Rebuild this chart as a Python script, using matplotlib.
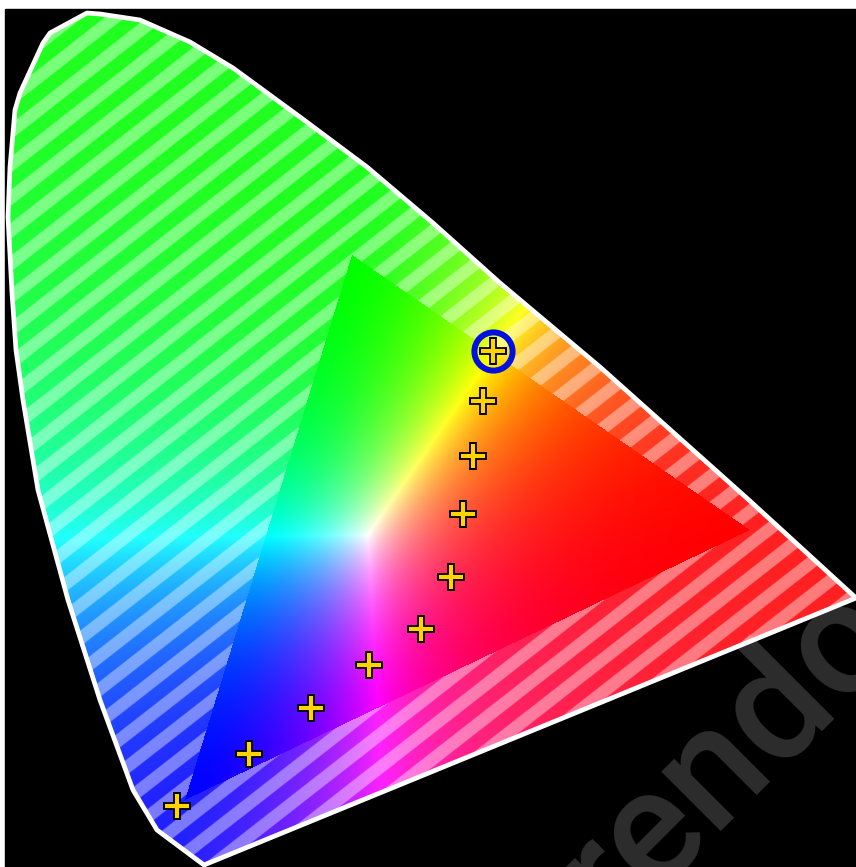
import matplotlib
matplotlib.use('Agg')
import matplotlib.pyplot as plt
import numpy as np
from matplotlib.patches import Polygon, Rectangle

# spectral locus (pixels)
locus_x = [204, 157, 133, 100, 68, 38, 23, 16, 12, 8, 10, 15, 20, 43, 50, 87, 100, 140, 190, 233, 300, 367, 433, 500, 600, 750, 856]
locus_y = [865, 830, 790, 700, 600, 490, 400, 350, 293, 217, 167, 110, 93, 43, 33, 13, 14, 20, 42, 68, 117, 167, 223, 283, 367, 501, 598]

gamut_x = [750, 352, 185]
gamut_y = [530, 255, 800]
white_x = 368
white_y = 535

cross_x = [177, 249, 311, 369, 421, 451, 463, 473, 483, 493]
cross_y = [806, 754, 708, 665, 629, 577, 514, 456, 401, 351]
selected = 9

W, H = 856, 867
fig = plt.figure(figsize=(W / 100, H / 100), dpi=100, facecolor='white')
ax = fig.add_axes([0, 0, 1, 1])
ax.set_xlim(0, W)
ax.set_ylim(H, 0)
ax.axis('off')
ax.add_patch(Rectangle((5, 9), W, H, color='black', zorder=0))


def bary(px, py):
    x1, x2, x3 = gamut_x
    y1, y2, y3 = gamut_y
    d = (y2 - y3) * (x1 - x3) + (x3 - x2) * (y1 - y3)
    a = ((y2 - y3) * (px - x3) + (x3 - x2) * (py - y3)) / d
    b = ((y3 - y1) * (px - x3) + (x1 - x3) * (py - y3)) / d
    return np.stack([a, b, 1 - a - b], axis=-1)


xx, yy = np.meshgrid(np.arange(W) + 0.5, np.arange(H) + 0.5)
w = bary(xx, yy)
inside = w.min(axis=-1) >= 0

rgb = np.clip(w / bary(white_x, white_y), 0, None)
rgb = rgb / rgb.max(axis=-1, keepdims=True)
rgb = rgb ** 1.4

# stripes only show outside the gamut triangle
slope = np.radians(38)
period = 33 * np.cos(slope)
u = (xx * np.sin(slope) + yy * np.cos(slope)) / period
stripe = np.clip(np.sin(2 * np.pi * u) * 3 + 0.3, 0, 1)
veil = 0.13 + 0.35 * stripe
veil[inside] = 0
rgb = rgb + (1 - rgb) * veil[..., None]

locus = Polygon(np.column_stack([locus_x, locus_y]), closed=True, fc='none', ec='white', lw=3.4,
                joinstyle='round', zorder=3)
ax.add_patch(locus)
im = ax.imshow(rgb, extent=(0, W, H, 0), interpolation='bilinear', zorder=1, aspect='auto')
im.set_clip_path(Polygon(np.column_stack([locus_x, locus_y]), closed=True, transform=ax.transData))

ax.plot(cross_x, cross_y, '+', color='black', ms=19.5, mew=5.6, zorder=5)
ax.plot(cross_x, cross_y, '+', color='#ffd400', ms=17, mew=3, zorder=6)
ax.plot(cross_x[selected], cross_y[selected], 'o', mfc='none', mec='#0010e0', ms=27.5, mew=4.3, zorder=4)

ax.text(903, 639, 'rendo', family='Roboto', fontsize=115, fontweight='medium', color='white', alpha=0.18,
        rotation=45, rotation_mode='anchor', ha='right', va='baseline', zorder=8)

fig.savefig('out.png', dpi=100, facecolor='white')
